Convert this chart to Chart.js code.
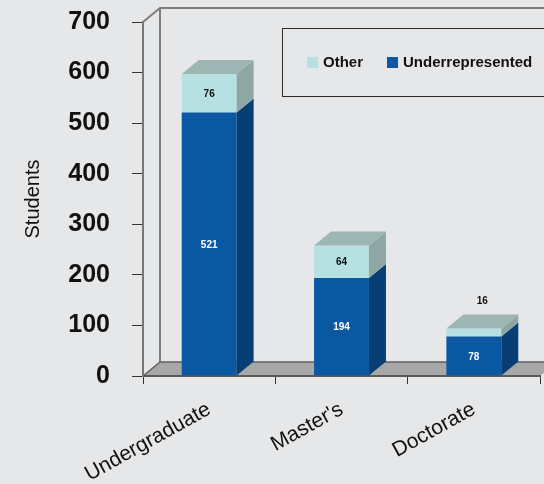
<!DOCTYPE html>
<html>
<head>
<meta charset="utf-8">
<script src="https://cdn.jsdelivr.net/npm/chart.js@4.4.1/dist/chart.umd.min.js"></script>
<style>
  html, body { margin: 0; padding: 0; background: #e6e7e9; }
  canvas { display: block; }
</style>
</head>
<body>
<canvas id="c" width="544" height="484"></canvas>
<script>
// Student counts by degree level
const categories = ['Undergraduate', "Master's", 'Doctorate'];
const underrepresented = [521, 194, 78];
const other = [76, 64, 16];
const yTicks = [0, 100, 200, 300, 400, 500, 600, 700];
const seriesNames = ['Underrepresented', 'Other'];

const SANS = '"Liberation Sans", Arial, sans-serif';

// depth of the pseudo-3D extrusion
const DX = 17, DY = 14;

const palette = {
  Underrepresented: { front: '#0a58a1', side: '#073f75', top: '#0b4d8c' },
  Other: { front: '#b7e0e3', side: '#8ea7a4', top: '#9db6b3' }
};

const depthPlugin = {
  id: 'depth',
  beforeDraw(chart) {
    const { ctx, chartArea: { left: L, right: R, top: T, bottom: B } } = chart;
    ctx.save();
    // floor
    ctx.fillStyle = '#a7a7a7';
    ctx.beginPath();
    ctx.moveTo(L, B); ctx.lineTo(L + DX, B - DY); ctx.lineTo(R + DX, B - DY); ctx.lineTo(R, B);
    ctx.closePath(); ctx.fill();
    // wall edges
    ctx.strokeStyle = '#7d7d7d';
    ctx.lineWidth = 2;
    ctx.beginPath();
    ctx.moveTo(L, T); ctx.lineTo(L + DX, T - DY); ctx.lineTo(R + DX, T - DY);
    ctx.moveTo(L + DX, T - DY); ctx.lineTo(L + DX, B - DY);
    ctx.stroke();
    ctx.strokeStyle = '#626262';
    ctx.lineWidth = 1.5;
    ctx.beginPath();
    ctx.moveTo(L, B); ctx.lineTo(L + DX, B - DY); ctx.lineTo(R + DX, B - DY);
    ctx.stroke();
    ctx.restore();
  },
  afterDatasetsDraw(chart) {
    const { ctx } = chart;
    const last = chart.data.datasets.length - 1;
    ctx.save();
    chart.data.datasets.forEach((ds, di) => {
      const meta = chart.getDatasetMeta(di);
      const col = palette[ds.label];
      meta.data.forEach((bar) => {
        const p = bar.getProps(['x', 'y', 'base', 'width'], true);
        const l = p.x - p.width / 2, r = p.x + p.width / 2;
        const t = Math.min(p.y, p.base), b = Math.max(p.y, p.base);
        // right side face
        ctx.fillStyle = col.side;
        ctx.beginPath();
        ctx.moveTo(r, t); ctx.lineTo(r + DX, t - DY); ctx.lineTo(r + DX, b - DY); ctx.lineTo(r, b);
        ctx.closePath(); ctx.fill();
        // top face on the uppermost segment
        if (di === last) {
          ctx.fillStyle = col.top;
          ctx.beginPath();
          ctx.moveTo(l, t); ctx.lineTo(l + DX, t - DY); ctx.lineTo(r + DX, t - DY); ctx.lineTo(r, t);
          ctx.closePath(); ctx.fill();
        }
      });
    });
    // value labels
    ctx.font = 'bold 10px ' + SANS;
    ctx.textAlign = 'center';
    ctx.textBaseline = 'middle';
    chart.data.datasets.forEach((ds, di) => {
      const meta = chart.getDatasetMeta(di);
      meta.data.forEach((bar, i) => {
        const p = bar.getProps(['x', 'y', 'base'], true);
        const t = Math.min(p.y, p.base), b = Math.max(p.y, p.base);
        const v = ds.data[i];
        if (b - t >= 14) {
          ctx.fillStyle = ds.label === 'Underrepresented' ? '#ffffff' : '#111111';
          ctx.fillText(String(v), p.x, (t + b) / 2 + 1);
        } else {
          ctx.fillStyle = '#111111';
          ctx.fillText(String(v), p.x + DX / 2, t - DY - 13);
        }
      });
    });
    ctx.restore();
  },
  afterDraw(chart) {
    // legend panel
    const { ctx } = chart;
    ctx.save();
    ctx.strokeStyle = '#2a2a2a';
    ctx.lineWidth = 1;
    ctx.strokeRect(282.5, 28.5, 280, 68);
    ctx.font = 'bold 15px ' + SANS;
    ctx.textBaseline = 'middle';
    ctx.textAlign = 'left';
    const order = ['Other', 'Underrepresented'];
    const xs = [307, 387];
    order.forEach((name, k) => {
      ctx.fillStyle = palette[name].front;
      ctx.fillRect(xs[k], 57, 11, 11);
      ctx.fillStyle = '#111111';
      ctx.fillText(name, xs[k] + 16, 63);
    });
    ctx.restore();
  }
};

new Chart(document.getElementById('c'), {
  type: 'bar',
  data: {
    labels: categories,
    datasets: [
      { label: seriesNames[0], data: underrepresented, backgroundColor: palette.Underrepresented.front },
      { label: seriesNames[1], data: other, backgroundColor: palette.Other.front }
    ]
  },
  options: {
    responsive: false,
    animation: false,
    events: [],
    layout: { padding: { top: 22, right: 4, left: 0, bottom: 0 } },
    datasets: { bar: { categoryPercentage: 1, barPercentage: 0.415, borderWidth: 0 } },
    plugins: { legend: { display: false }, tooltip: { enabled: false } },
    scales: {
      x: {
        stacked: true,
        afterFit(s) { s.height = 108; },
        grid: { offset: true, drawOnChartArea: false, tickLength: 8, color: '#333333', lineWidth: 1 },
        border: { color: '#5a5a5a', width: 2 },
        ticks: {
          minRotation: 29, maxRotation: 29, padding: 13, color: '#111111',
          font: { family: SANS, size: 21 }
        }
      },
      y: {
        stacked: true,
        min: 0, max: 700,
        afterFit(s) { s.width = 143; s.paddingTop = 0; },
        afterBuildTicks(s) { s.ticks = yTicks.map(v => ({ value: v })); },
        grid: { drawOnChartArea: false, tickLength: 11, color: '#333333', lineWidth: 1 },
        border: { color: '#777777', width: 2 },
        ticks: { padding: 22, color: '#111111', font: { family: SANS, size: 25, weight: 'bold' } },
        title: {
          display: true, text: 'Students', color: '#111111',
          font: { family: SANS, size: 20 }, padding: { top: 21, bottom: 0 }
        }
      }
    }
  },
  plugins: [depthPlugin]
});
</script>
</body>
</html>
